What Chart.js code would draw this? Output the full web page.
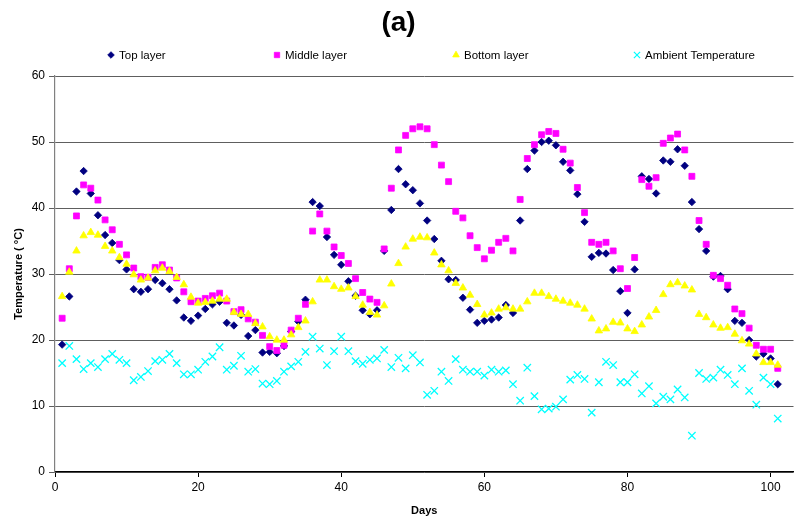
<!DOCTYPE html>
<html>
<head>
<meta charset="utf-8">
<script src="https://cdn.jsdelivr.net/npm/chart.js@4.4.1/dist/chart.umd.min.js"></script>
<style>
  html, body { margin: 0; padding: 0; background: #ffffff; }
  #wrap { width: 800px; height: 524px; }
</style>
</head>
<body>
<div id="wrap"><canvas id="chart" width="800" height="524"></canvas></div>
<script>
// Day of the trial for each reading
const days = [1,2,3,4,5,6,7,8,9,10,11,12,13,14,15,16,17,18,19,20,
  21,22,23,24,25,26,27,28,29,30,31,32,33,34,35,36,37,38,39,40,
  41,42,43,44,45,46,47,48,49,50,51,52,53,54,55,56,57,58,59,60,
  61,62,63,64,65,66,67,68,69,70,71,72,73,74,75,76,77,78,79,80,
  81,82,83,84,85,86,87,88,89,90,91,92,93,94,95,96,97,98,99,100,101];

// Temperatures (°C)
const topLayer = [19.3,26.6,42.5,45.6,42.2,38.9,35.9,34.7,32.1,30.7,
  27.7,27.3,27.7,29.1,28.6,27.7,26.0,23.4,22.9,23.7,
  24.7,25.4,25.8,22.6,22.2,23.8,20.6,21.5,18.1,18.2,
  18.0,19.1,21.3,22.8,26.1,40.9,40.3,35.6,32.9,31.4,
  28.9,26.7,24.5,23.9,24.5,33.5,39.7,45.9,43.6,42.7,
  40.7,38.1,35.3,32.0,29.2,29.1,26.4,24.6,22.6,22.9,
  23.1,23.4,25.3,24.1,38.1,45.9,48.7,50.0,50.2,49.5,
  47.0,45.7,42.1,37.9,32.6,33.2,33.1,30.6,27.4,24.1,
  30.7,44.8,44.4,42.2,47.2,47.0,48.9,46.4,40.9,36.8,
  33.5,29.6,29.7,27.7,22.9,22.6,20.0,17.5,17.9,17.2,13.3];

const middleLayer = [23.3,30.8,38.8,43.5,43.0,41.2,38.2,36.7,34.5,32.9,
  30.9,29.6,29.5,31.0,31.4,30.6,29.4,27.3,25.8,25.9,
  26.3,26.7,27.1,25.9,24.3,24.6,23.2,22.7,20.7,19.0,
  18.4,19.2,21.5,23.3,25.4,36.5,39.1,36.5,34.1,32.8,
  31.6,29.3,27.2,26.2,25.7,33.8,43.0,48.8,51.0,52.0,
  52.3,52.0,49.6,46.5,44.0,39.5,38.5,35.8,34.0,32.3,
  33.6,34.8,35.4,33.5,41.3,47.5,49.6,51.1,51.6,51.3,
  48.9,46.8,43.1,39.3,34.8,34.5,34.8,33.5,30.8,27.8,
  32.5,44.3,43.3,44.6,49.8,50.6,51.2,48.8,44.8,38.1,
  34.5,29.8,29.3,28.3,24.7,24.0,21.8,19.2,18.6,18.6,15.7];

const bottomLayer = [26.6,30.3,33.5,35.8,36.3,35.9,34.2,33.5,32.5,31.5,
  29.9,29.1,29.4,30.5,30.9,30.4,29.5,28.4,26.5,25.6,
  25.7,25.9,26.2,26.2,24.2,23.9,23.9,22.5,22.0,20.5,
  20.0,20.0,20.8,21.9,22.9,25.8,29.1,29.1,28.1,27.7,
  27.9,26.6,25.3,24.2,23.8,25.2,28.5,31.6,34.1,35.3,
  35.6,35.5,33.2,31.4,30.5,28.6,27.9,26.8,25.4,23.8,
  24.1,24.7,24.9,24.7,24.7,25.8,27.1,27.1,26.6,26.2,
  25.9,25.6,25.3,24.7,23.2,21.4,21.7,22.7,22.6,21.7,
  21.3,22.3,23.5,24.5,26.9,28.4,28.7,28.2,27.6,23.9,
  23.4,22.3,21.8,21.9,20.9,19.9,19.4,17.9,16.6,16.6,16.2];

const ambientTemp = [16.5,19.1,17.1,15.6,16.5,15.9,17.1,17.9,17.0,16.5,
  13.9,14.4,15.3,16.8,17.0,17.9,16.5,14.8,14.8,15.5,
  16.7,17.5,18.9,15.5,16.1,17.6,15.2,15.6,13.4,13.3,
  13.8,15.2,16.0,16.7,18.2,20.5,18.7,16.2,18.3,20.5,
  18.3,16.8,16.4,17.0,17.2,18.5,15.9,17.3,15.7,17.7,
  16.6,11.7,12.3,15.2,13.8,17.1,15.5,15.2,15.2,14.6,
  15.5,15.2,15.4,13.3,10.8,15.8,11.5,9.5,9.6,9.9,
  11.0,14.0,14.7,14.1,9.0,13.6,16.7,16.2,13.6,13.6,
  14.8,11.9,13.0,10.4,11.4,11.0,12.5,11.3,5.5,15.0,
  14.1,14.3,15.5,14.7,13.3,15.7,12.3,10.2,14.3,13.3,8.1];

const seriesNames = ['Top layer', 'Middle layer', 'Bottom layer', 'Ambient Temperature'];
const xTickValues = [0, 20, 40, 60, 80, 100];
const yTickValues = [0, 10, 20, 30, 40, 50, 60];

const FONT = "'Liberation Sans', Arial, Helvetica, sans-serif";
Chart.defaults.font.family = FONT;
Chart.defaults.color = '#000000';

const toPoints = (vals) => vals.map((v, i) => ({ x: days[i], y: v }));

// Legend row drawn across the top, one entry per series
const legendRow = {
  id: 'legendRow',
  afterDraw(chart) {
    const ctx = chart.ctx;
    const centers = [111, 277, 456, 637];
    const y = 55;
    ctx.save();
    chart.data.datasets.forEach((ds, i) => {
      ctx.fillStyle = ds.backgroundColor;
      ctx.strokeStyle = ds.borderColor;
      ctx.lineWidth = ds.legendLineWidth;
      Chart.helpers.drawPoint(ctx, {
        pointStyle: ds.pointStyle,
        radius: ds.legendRadius,
        borderWidth: ds.legendLineWidth,
        rotation: 0
      }, centers[i], y);
      ctx.fillStyle = '#000000';
      ctx.font = '11.5px ' + FONT;
      ctx.textAlign = 'left';
      ctx.textBaseline = 'middle';
      ctx.fillText(ds.label, centers[i] + 8, y + 0.5);
    });
    ctx.restore();
  }
};

new Chart(document.getElementById('chart'), {
  type: 'scatter',
  data: {
    datasets: [
      {
        label: seriesNames[0], data: toPoints(topLayer), order: 4,
        pointStyle: 'rectRot', pointRadius: 3.7, pointHoverRadius: 3.7,
        backgroundColor: '#000080', borderColor: '#000080', borderWidth: 0.8,
        legendRadius: 3.3, legendLineWidth: 0.8
      },
      {
        label: seriesNames[1], data: toPoints(middleLayer), order: 3,
        pointStyle: 'rect', pointRadius: 4.2, pointHoverRadius: 4.2,
        backgroundColor: '#FF00FF', borderColor: '#FF00FF', borderWidth: 0.8,
        legendRadius: 3.8, legendLineWidth: 0.8
      },
      {
        label: seriesNames[2], data: toPoints(bottomLayer), order: 2,
        pointStyle: 'triangle', pointRadius: 4.3, pointHoverRadius: 4.3,
        backgroundColor: '#FFFF00', borderColor: '#FFFF00', borderWidth: 0.8,
        legendRadius: 3.8, legendLineWidth: 0.8
      },
      {
        label: seriesNames[3], data: toPoints(ambientTemp), order: 1,
        pointStyle: 'crossRot', pointRadius: 5.2, pointHoverRadius: 5.2,
        backgroundColor: '#00FFFF', borderColor: '#00FFFF', borderWidth: 1.3,
        legendRadius: 4.4, legendLineWidth: 1.2
      }
    ]
  },
  options: {
    responsive: false,
    animation: false,
    devicePixelRatio: 1,
    layout: { padding: { top: 0, right: 3, bottom: 0, left: 0 } },
    plugins: {
      legend: { display: false },
      tooltip: { enabled: false },
      title: {
        display: true,
        text: '(a)',
        font: { size: 28, weight: 'bold', family: FONT },
        color: '#000000',
        padding: { top: 6, bottom: 36.4 }
      }
    },
    scales: {
      x: {
        type: 'linear',
        min: 0,
        max: 103.2,
        afterBuildTicks(scale) {
          scale.ticks = xTickValues.map(v => ({ value: v }));
        },
        afterFit(scale) { scale.height = 52; },
        ticks: { font: { size: 12 }, color: '#000000', padding: 3, maxRotation: 0 },
        grid: { drawOnChartArea: false, drawTicks: true, tickLength: 5, color: '#000000', lineWidth: 1 },
        border: { display: true, color: '#000000', width: 1.2 },
        title: {
          display: true, text: 'Days',
          font: { size: 11, weight: 'bold' }, color: '#000000',
          padding: { top: 4, bottom: 6.4 }
        }
      },
      y: {
        type: 'linear',
        min: 0,
        max: 60,
        afterBuildTicks(scale) {
          scale.ticks = yTickValues.map(v => ({ value: v }));
        },
        afterFit(scale) { scale.width = 55; },
        ticks: { font: { size: 12 }, color: '#000000', padding: 4 },
        grid: { color: '#5e5e5e', lineWidth: 1, drawTicks: true, tickLength: 6 },
        border: { display: true, color: '#808080', width: 1.2 },
        title: {
          display: true, text: 'Temperature ( °C)',
          font: { size: 11, weight: 'bold' }, color: '#000000',
          padding: { top: 12, bottom: 6 }
        }
      }
    }
  },
  plugins: [legendRow]
});
</script>
</body>
</html>
